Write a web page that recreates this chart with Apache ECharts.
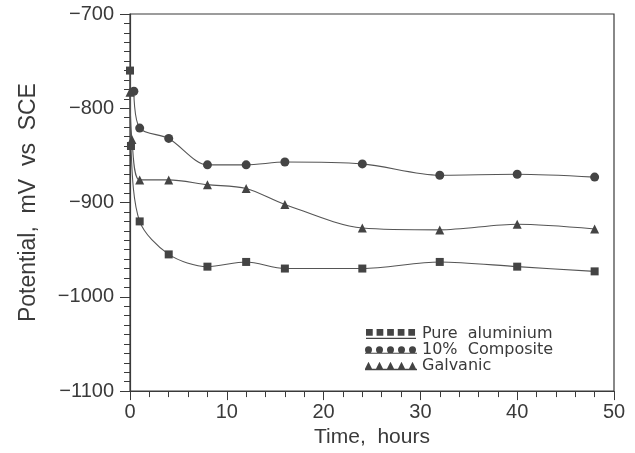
<!DOCTYPE html>
<html>
<head>
<meta charset="utf-8">
<script src="https://cdn.jsdelivr.net/npm/echarts@6/dist/echarts.min.js"></script>
<style>
  html, body { margin: 0; padding: 0; background: #fff; }
  #chart { width: 635px; height: 453px; }
</style>
</head>
<body>
<div id="chart"></div>
<script>
// time in hours, potential in mV vs SCE
const pureAluminium = [
  [0, -760], [0.1, -840], [1, -920], [4, -955], [8, -968], [12, -963],
  [16, -970], [24, -970], [32, -963], [40, -968], [48, -973]
];
const composite = [
  [0.4, -782], [1, -821], [4, -832], [8, -860], [12, -860],
  [16, -857], [24, -859], [32, -871], [40, -870], [48, -873]
];
const galvanic = [
  [0, -783], [0.2, -833], [1, -876], [4, -876], [8, -881], [12, -885],
  [16, -902], [24, -927], [32, -929], [40, -923], [48, -928]
];
const seriesNames = ['Pure  aluminium', '10%  Composite', 'Galvanic'];

const ink = '#3a3a3a';
const font = 'Liberation Sans';
const minus = v => String(v).replace('-', '\u2212');

// legend icons: five marks with a line under them
const iconSquares = 'path://M0,0h7v7h-7z M11,0h7v7h-7z M22,0h7v7h-7z M33,0h7v7h-7z M44,0h7v7h-7z M0,9h52v1.4h-52z';
const circ = x => 'M' + (x + 7) + ',3.5A3.5,3.5 0 1,1 ' + x + ',3.5A3.5,3.5 0 1,1 ' + (x + 7) + ',3.5Z';
const iconCircles = 'path://' + [0, 11, 22, 33, 44].map(circ).join(' ') + ' M0,6.5h52v1h-52z';
const tri = x => 'M' + x + ',8L' + (x + 3.5) + ',1L' + (x + 7) + ',8Z';
const iconTriangles = 'path://' + [0, 11, 22, 33, 44].map(tri).join(' ') + ' M0,8h52v1.4h-52z';

const lineSeries = (name, data, symbol, size) => ({
  name: name,
  type: 'line',
  data: data,
  smooth: 0.3,
  symbol: symbol,
  symbolSize: size,
  itemStyle: { color: '#444' },
  lineStyle: { color: '#555', width: 1.1 }
});

const myChart = echarts.init(document.getElementById('chart'));
myChart.setOption({
  backgroundColor: '#fff',
  animation: false,
  grid: {
    left: 130,
    right: 21,
    top: 14,
    bottom: 58,
    show: true,
    borderColor: ink,
    borderWidth: 1.2
  },
  legend: {
    orient: 'vertical',
    left: 360,
    top: 321,
    itemWidth: 52,
    itemHeight: 10,
    itemGap: 0,
    textStyle: { fontFamily: 'DejaVu Sans', fontSize: 16, color: ink },
    data: [
      { name: seriesNames[0], icon: iconSquares },
      { name: seriesNames[1], icon: iconCircles },
      { name: seriesNames[2], icon: iconTriangles }
    ]
  },
  xAxis: {
    type: 'value',
    min: 0,
    max: 50,
    interval: 10,
    name: 'Time,  hours',
    nameLocation: 'middle',
    nameGap: 35,
    nameTextStyle: { fontFamily: font, fontSize: 21, color: ink },
    axisLine: { lineStyle: { color: ink, width: 1.2 } },
    axisTick: { length: 9, lineStyle: { color: ink } },
    minorTick: { show: true, splitNumber: 5, length: 6, lineStyle: { color: ink } },
    axisLabel: { fontFamily: font, fontSize: 20, color: ink, margin: 11 },
    splitLine: { show: false }
  },
  yAxis: {
    type: 'value',
    min: -1100,
    max: -700,
    interval: 100,
    name: 'Potential,  mV  vs  SCE',
    nameLocation: 'middle',
    nameGap: 90,
    nameTextStyle: { fontFamily: font, fontSize: 23, color: ink },
    axisLine: { lineStyle: { color: ink, width: 1.2 } },
    axisTick: { length: 10, lineStyle: { color: ink } },
    minorTick: { show: true, splitNumber: 10, length: 6, lineStyle: { color: ink } },
    axisLabel: { fontFamily: font, fontSize: 20, color: ink, margin: 16, formatter: minus },
    splitLine: { show: false }
  },
  series: [
    lineSeries(seriesNames[0], pureAluminium, 'rect', 8),
    lineSeries(seriesNames[1], composite, 'circle', 9),
    lineSeries(seriesNames[2], galvanic, 'triangle', 9)
  ]
});
</script>
</body>
</html>
